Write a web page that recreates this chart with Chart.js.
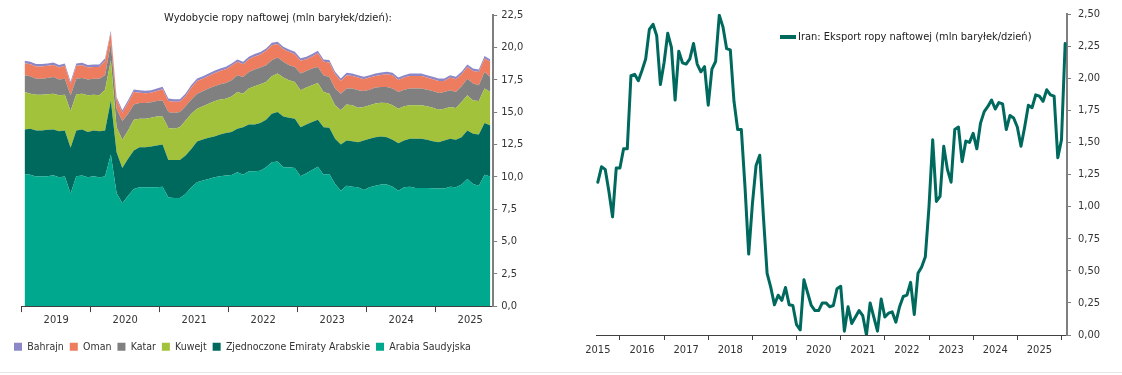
<!DOCTYPE html>
<html><head><meta charset="utf-8">
<script src="https://cdn.jsdelivr.net/npm/chart.js@4.4.1/dist/chart.umd.min.js"></script>
<style>
html,body{margin:0;padding:0;background:#fff;}
body{width:1122px;height:375px;position:relative;overflow:hidden;}
#w1{position:absolute;left:0;top:0;width:545px;height:375px;}
#w2{position:absolute;left:560px;top:0;width:562px;height:375px;}
#rule{position:absolute;left:0;top:372px;width:1122px;height:1px;background:#e6e6e6;}
</style></head><body>
<div id="w1"><canvas id="c1" width="545" height="375"></canvas></div>
<div id="w2"><canvas id="c2" width="562" height="375"></canvas></div>
<div id="rule"></div>
<script>
// ---------- DATA ----------
const prodTitle = 'Wydobycie ropy naftowej (mln baryłek/dzień):';
const prodYears = ['2019','2020','2021','2022','2023','2024','2025'];
const prodNames = ['Arabia Saudyjska','Zjednoczone Emiraty Arabskie','Kuwejt','Katar','Oman','Bahrajn'];
const saudi = [10.21,10.16,10.01,10.03,10.03,10.11,9.96,10.01,8.71,10.03,10.09,9.96,
10.03,9.96,10.01,11.71,8.74,7.94,8.53,9.05,9.18,9.18,9.18,9.18,
9.23,8.40,8.35,8.35,8.66,9.18,9.57,9.70,9.83,9.96,10.03,10.09,
10.14,10.34,10.16,10.42,10.42,10.47,10.73,11.12,11.17,10.73,10.73,10.68,
10.03,10.27,10.52,10.78,10.16,10.21,9.44,8.92,9.31,9.23,9.18,8.97,
9.18,9.31,9.39,9.39,9.23,8.92,9.18,9.23,9.13,9.13,9.13,9.10,
9.08,9.08,9.23,9.18,9.39,9.83,9.44,9.31,10.16,10.01];
const uae = [3.44,3.55,3.57,3.55,3.60,3.54,3.56,3.57,3.52,3.55,3.56,3.49,
3.55,3.56,3.57,4.19,3.16,2.74,2.85,2.97,3.10,3.10,3.16,3.23,
3.26,2.90,2.95,2.95,2.98,2.97,3.15,3.18,3.18,3.15,3.24,3.28,
3.31,3.37,3.67,3.62,3.62,3.68,3.67,3.75,3.83,3.93,3.83,3.80,
3.80,3.77,3.70,3.62,3.67,3.57,3.49,3.57,3.49,3.52,3.49,3.83,
3.75,3.75,3.72,3.67,3.62,3.67,3.62,3.70,3.80,3.80,3.72,3.65,
3.59,3.72,3.70,3.67,3.67,3.75,3.88,3.96,3.99,3.95];
const kuwait = [2.90,2.71,2.76,2.76,2.74,2.77,2.77,2.76,2.85,2.79,2.77,2.84,
2.76,2.77,3.15,3.11,1.93,2.17,2.20,2.38,2.20,2.20,2.22,2.25,
2.17,2.46,2.41,2.53,2.71,2.72,2.54,2.56,2.63,2.72,2.69,2.66,
2.76,2.84,2.59,2.77,2.95,3.00,2.93,2.90,2.97,3.00,2.90,2.85,
2.85,2.85,2.85,2.85,2.72,2.64,2.59,2.64,2.79,2.77,2.66,2.59,
2.59,2.59,2.61,2.64,2.67,2.67,2.64,2.59,2.59,2.59,2.59,2.58,
2.51,2.46,2.46,2.46,2.71,2.71,2.58,2.58,2.66,2.59];
const qatar = [1.29,1.35,1.24,1.24,1.27,1.29,1.22,1.24,1.21,1.21,1.22,1.22,
1.24,1.29,1.11,1.29,1.43,1.45,1.29,1.19,1.22,1.22,1.19,1.19,
1.24,1.24,1.21,1.17,1.09,1.09,1.16,1.16,1.17,1.16,1.19,1.22,
1.25,1.29,1.29,1.29,1.29,1.29,1.29,1.24,1.24,1.22,1.16,1.16,
1.29,1.29,1.29,1.24,1.29,1.29,1.29,1.29,1.22,1.29,1.35,1.24,
1.21,1.24,1.22,1.24,1.29,1.29,1.29,1.29,1.29,1.29,1.29,1.30,
1.29,1.29,1.29,1.24,1.22,1.29,1.30,1.22,1.29,1.16];
const oman = [0.93,0.92,0.94,0.94,0.93,0.93,0.93,0.99,0.86,0.99,0.98,0.93,
0.91,0.91,1.12,0.80,0.72,0.65,0.85,0.96,0.80,0.75,0.75,0.78,
0.86,0.85,0.88,0.80,0.80,0.93,0.98,0.98,0.98,1.01,1.03,1.06,
1.11,1.04,0.98,0.98,1.01,1.01,1.11,1.16,1.04,0.98,1.03,0.98,
0.99,0.90,0.93,1.06,1.04,1.12,1.11,0.98,1.03,0.98,0.98,0.90,
0.93,0.90,0.93,0.98,1.03,0.93,0.93,0.98,0.98,0.98,0.93,0.90,
0.93,0.85,0.98,0.98,0.93,0.91,0.98,1.03,1.04,1.17];
const bahrain = [0.19,0.19,0.19,0.19,0.19,0.19,0.19,0.19,0.19,0.19,0.19,0.19,
0.19,0.19,0.19,0.19,0.19,0.19,0.19,0.19,0.19,0.19,0.19,0.19,
0.19,0.19,0.19,0.19,0.19,0.19,0.19,0.19,0.19,0.19,0.19,0.19,
0.19,0.19,0.19,0.19,0.19,0.19,0.19,0.19,0.19,0.19,0.19,0.19,
0.19,0.19,0.19,0.19,0.19,0.19,0.19,0.19,0.19,0.19,0.19,0.19,
0.19,0.19,0.19,0.19,0.19,0.19,0.19,0.19,0.19,0.19,0.19,0.19,
0.19,0.19,0.19,0.19,0.19,0.19,0.19,0.19,0.19,0.19];
const prodTicksY = [0,2.5,5,7.5,10,12.5,15,17.5,20,22.5];

const iranLabel = 'Iran: Eksport ropy naftowej (mln baryłek/dzień)';
const iranYears = ['2015','2016','2017','2018','2019','2020','2021','2022','2023','2024','2025'];
const iranExport = [1.19,1.31,1.29,1.12,0.92,1.30,1.30,1.45,1.45,2.02,2.03,1.98,
2.06,2.15,2.38,2.42,2.33,1.95,2.12,2.35,2.24,1.83,2.21,2.12,
2.11,2.15,2.27,2.11,2.05,2.09,1.79,2.07,2.13,2.49,2.40,2.23,
2.22,1.82,1.60,1.60,1.15,0.63,1.02,1.32,1.40,0.92,0.48,0.37,
0.235,0.31,0.27,0.37,0.235,0.23,0.08,0.04,0.43,0.33,0.23,0.19,
0.19,0.25,0.25,0.22,0.23,0.36,0.38,0.03,0.22,0.09,0.14,0.19,
0.15,0.00,0.25,0.14,0.03,0.28,0.14,0.17,0.18,0.10,0.22,0.30,
0.31,0.41,0.16,0.48,0.53,0.61,1.00,1.52,1.04,1.08,1.47,1.29,
1.19,1.60,1.62,1.35,1.51,1.50,1.57,1.45,1.65,1.74,1.78,1.83,
1.76,1.81,1.80,1.60,1.71,1.69,1.62,1.47,1.62,1.79,1.77,1.87,
1.86,1.82,1.91,1.87,1.86,1.38,1.52,2.27];
const iranTicksY = [0,0.25,0.5,0.75,1,1.25,1.5,1.75,2,2.25,2.5];

// ---------- STYLE ----------
const FONT = "'DejaVu Sans Condensed','Liberation Sans Narrow',sans-serif";
const FS = 11;
const LFS = 10.5;
const prodColors = ['#00A98E','#00695E','#A3C23B','#808080','#EE7D5F','#8C88C8'];
const iranColor = '#00695E';
const txt = '#333333';
const comma = (v,d) => v.toFixed(d).replace('.', ',');

// ---------- LEFT CHART ----------
const prodSeries = [saudi, uae, kuwait, qatar, oman, bahrain];
const prodMarks = prodYears.map((y,k)=>k*12-0.5);
const prodLabelPos = prodYears.map((y,k)=>k*12+5.5);

const leftTitlePlugin = {
  id:'leftTitle',
  afterDraw(chart){
    const ctx = chart.ctx; ctx.save();
    ctx.font = FS + 'px ' + FONT; ctx.fillStyle = '#222';
    ctx.textAlign = 'center'; ctx.textBaseline = 'middle';
    ctx.fillText(prodTitle, 278, 18);
    ctx.restore();
  }
};

new Chart(document.getElementById('c1'), {
  type:'line',
  data:{
    datasets: prodSeries.map((s,k)=>({
      label: prodNames[k],
      data: s.map((v,i)=>({x:i,y:v})),
      xAxisID:'x', yAxisID:'y',
      backgroundColor: prodColors[k],
      borderColor: prodColors[k],
      borderWidth: 0,
      pointRadius: 0,
      tension: 0,
      fill: k===0 ? 'origin' : '-1'
    }))
  },
  options:{
    responsive:false, animation:false,
    layout:{padding:{left:8,right:0,top:15,bottom:12.9}},
    plugins:{
      tooltip:{enabled:false},
      legend:{
        position:'bottom', align:'start', reverse:true,
        labels:{boxWidth:8, boxHeight:8, padding:6, color:txt, font:{family:FONT,size:LFS}}
      }
    },
    scales:{
      x:{
        type:'linear', min:-0.5, max:81.5, offset:false,
        afterBuildTicks: s => { s.ticks = prodMarks.concat(prodLabelPos).sort((a,b)=>a-b).map(v=>({value:v})); },
        afterFit: s => { s.height = 29.5; },
        border:{display:true, color:'#404040', width:1},
        grid:{display:true, drawOnChartArea:false, drawTicks:true, tickLength:6, tickWidth:1,
          tickColor: c => (c.tick && prodMarks.includes(c.tick.value)) ? '#404040' : 'rgba(0,0,0,0)'},
        ticks:{autoSkip:false, maxRotation:0, padding:1, color:txt, font:{family:FONT,size:FS},
          callback: v => { const k = prodLabelPos.indexOf(v); return k>=0 ? prodYears[k] : ''; }}
      },
      yL:{
        position:'left', display:true, min:0, max:1,
        grid:{display:false}, border:{display:false}, ticks:{display:false},
        afterFit: s => { s.width = 13.7; }
      },
      y:{
        position:'right', stacked:true, min:0, max:22.5,
        afterBuildTicks: s => { s.ticks = prodTicksY.map(v=>({value:v})); },
        afterFit: s => { s.width = 51.8; },
        border:{display:true, color:'#7f7f7f', width:2},
        grid:{display:true, drawOnChartArea:false, drawTicks:true, tickLength:4, tickColor:'#7f7f7f', tickWidth:1},
        ticks:{padding:4, color:txt, font:{family:FONT,size:FS}, callback: v => comma(v,1)}
      }
    }
  },
  plugins:[leftTitlePlugin]
});

// ---------- RIGHT CHART ----------
const iranLabelPos = iranYears.map((y,k)=>k*12);
const iranMarks = iranYears.map((y,k)=>k*12+6);

const rightLegendPlugin = {
  id:'rightLegend',
  afterDraw(chart){
    const ctx = chart.ctx; ctx.save();
    ctx.strokeStyle = iranColor; ctx.lineWidth = 4; ctx.lineCap = 'butt';
    ctx.beginPath(); ctx.moveTo(220, 37); ctx.lineTo(236, 37); ctx.stroke();
    ctx.font = FS + 'px ' + FONT; ctx.fillStyle = '#222';
    ctx.textAlign = 'left'; ctx.textBaseline = 'middle';
    ctx.fillText(iranLabel, 238, 37);
    ctx.restore();
  }
};

new Chart(document.getElementById('c2'), {
  type:'line',
  data:{
    datasets:[{
      label: iranLabel,
      data: iranExport.map((v,i)=>({x:i,y:v})),
      borderColor: iranColor, backgroundColor: iranColor,
      borderWidth: 3, pointRadius: 0, tension: 0, fill:false,
      borderJoinStyle:'round', borderCapStyle:'round'
    }]
  },
  options:{
    responsive:false, animation:false,
    layout:{padding:{left:36,right:0,top:14,bottom:0}},
    plugins:{tooltip:{enabled:false}, legend:{display:false}},
    scales:{
      x:{
        type:'linear', min:-0.5, max:127.5, offset:false,
        afterBuildTicks: s => { s.ticks = iranLabelPos.concat(iranMarks).sort((a,b)=>a-b).map(v=>({value:v})); },
        afterFit: s => { s.height = 40; },
        border:{display:true, color:'#404040', width:1},
        grid:{display:true, drawOnChartArea:false, drawTicks:true, tickLength:5, tickWidth:1,
          tickColor: c => (c.tick && iranMarks.includes(c.tick.value)) ? '#404040' : 'rgba(0,0,0,0)'},
        ticks:{autoSkip:false, maxRotation:0, padding:4, color:txt, font:{family:FONT,size:FS},
          callback: v => { const k = iranLabelPos.indexOf(v); return k>=0 ? iranYears[k] : ''; }}
      },
      y:{
        position:'right', min:0, max:2.5,
        afterBuildTicks: s => { s.ticks = iranTicksY.map(v=>({value:v})); },
        afterFit: s => { s.width = 55; },
        border:{display:true, color:'#7f7f7f', width:2},
        grid:{display:true, drawOnChartArea:false, drawTicks:true, tickLength:4, tickColor:'#7f7f7f', tickWidth:1},
        ticks:{padding:7, color:txt, font:{family:FONT,size:FS}, callback: v => comma(v,2)}
      }
    }
  },
  plugins:[rightLegendPlugin]
});
</script>
</body></html>
